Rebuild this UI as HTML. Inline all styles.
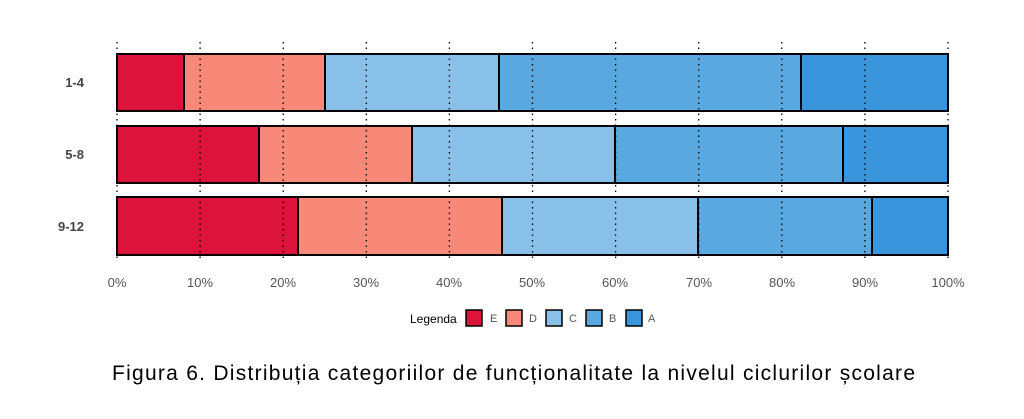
<!DOCTYPE html>
<html><head><meta charset="utf-8"><style>
body{margin:0;background:#fff;width:1024px;height:414px;overflow:hidden}
</style></head><body>
<svg width="1024" height="414" xmlns="http://www.w3.org/2000/svg" font-family="Liberation Sans, sans-serif">
<g stroke="#000" stroke-width="2">
<rect x="117" y="54" width="67" height="57" fill="#dc143c"/>
<rect x="184" y="54" width="141" height="57" fill="#f88878"/>
<rect x="325" y="54" width="174" height="57" fill="#88c0ea"/>
<rect x="499" y="54" width="302" height="57" fill="#5aa8e0"/>
<rect x="801" y="54" width="147" height="57" fill="#3a96dc"/>
<rect x="117" y="126" width="142" height="57" fill="#dc143c"/>
<rect x="259" y="126" width="153" height="57" fill="#f88878"/>
<rect x="412" y="126" width="203" height="57" fill="#88c0ea"/>
<rect x="615" y="126" width="228" height="57" fill="#5aa8e0"/>
<rect x="843" y="126" width="105" height="57" fill="#3a96dc"/>
<rect x="117" y="197" width="181" height="58" fill="#dc143c"/>
<rect x="298" y="197" width="204" height="58" fill="#f88878"/>
<rect x="502" y="197" width="196" height="58" fill="#88c0ea"/>
<rect x="698" y="197" width="174" height="58" fill="#5aa8e0"/>
<rect x="872" y="197" width="76" height="58" fill="#3a96dc"/>
</g>
<g stroke="#000" stroke-width="1.3" stroke-dasharray="1.5,4">
<line x1="117" y1="42" x2="117" y2="262"/><line x1="200.1" y1="42" x2="200.1" y2="262"/><line x1="283.2" y1="42" x2="283.2" y2="262"/><line x1="366.3" y1="42" x2="366.3" y2="262"/><line x1="449.4" y1="42" x2="449.4" y2="262"/><line x1="532.5" y1="42" x2="532.5" y2="262"/><line x1="615.6" y1="42" x2="615.6" y2="262"/><line x1="698.7" y1="42" x2="698.7" y2="262"/><line x1="781.8" y1="42" x2="781.8" y2="262"/><line x1="864.9" y1="42" x2="864.9" y2="262"/><line x1="948" y1="42" x2="948" y2="262"/>
</g>
<g font-size="13" fill="#555" text-anchor="middle">
<text x="117" y="287">0%</text><text x="200" y="287">10%</text><text x="283" y="287">20%</text><text x="366" y="287">30%</text><text x="449" y="287">40%</text><text x="532" y="287">50%</text><text x="615" y="287">60%</text><text x="699" y="287">70%</text><text x="782" y="287">80%</text><text x="865" y="287">90%</text><text x="948" y="287">100%</text>
</g>
<g font-size="13" font-weight="bold" fill="#444" text-anchor="end">
<text x="84" y="87">1-4</text><text x="84" y="159">5-8</text><text x="84" y="231">9-12</text>
</g>
<text x="410" y="323" font-size="12" fill="#000">Legenda</text>
<g stroke="#000" stroke-width="1.5">
<rect x="466" y="310" width="16" height="16" fill="#dc143c"/>
<rect x="506" y="310" width="16" height="16" fill="#f88878"/>
<rect x="546" y="310" width="16" height="16" fill="#88c0ea"/>
<rect x="586" y="310" width="16" height="16" fill="#5aa8e0"/>
<rect x="626" y="310" width="16" height="16" fill="#3a96dc"/>
</g>
<g font-size="11" fill="#555">
<text x="490" y="322">E</text><text x="529" y="322">D</text><text x="569" y="322">C</text><text x="609" y="322">B</text><text x="648" y="322">A</text>
</g>
<text x="112" y="380" font-size="21" fill="#000" textLength="803" lengthAdjust="spacing">Figura 6.  Distribuția categoriilor de funcționalitate la nivelul ciclurilor școlare</text>
</svg>
</body></html>
